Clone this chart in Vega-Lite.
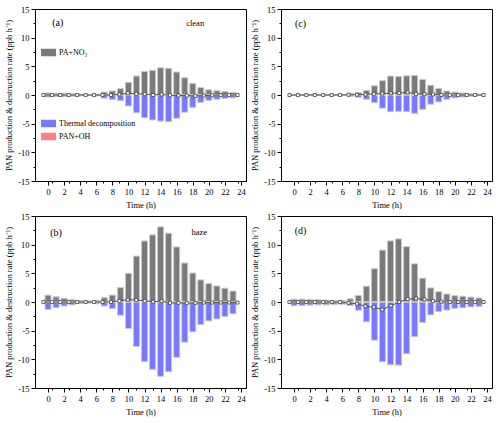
{
  "$schema": "https://vega.github.io/schema/vega-lite/v6.json",
  "padding": {"left": 4, "top": 4, "right": 1, "bottom": 2},
  "background": "white",
  "datasets": {
    "rates": [
      {"p":"a","h":0,"pa":0.35,"td":-0.35,"oh":0,"net":0},
      {"p":"a","h":1,"pa":0.3,"td":-0.3,"oh":0,"net":0},
      {"p":"a","h":2,"pa":0.3,"td":-0.3,"oh":0,"net":0},
      {"p":"a","h":3,"pa":0.2,"td":-0.2,"oh":0,"net":0},
      {"p":"a","h":4,"pa":0.15,"td":-0.15,"oh":0,"net":0},
      {"p":"a","h":5,"pa":0.1,"td":-0.1,"oh":0,"net":0},
      {"p":"a","h":6,"pa":0.15,"td":-0.15,"oh":0,"net":0},
      {"p":"a","h":7,"pa":0.5,"td":-0.55,"oh":0,"net":0},
      {"p":"a","h":8,"pa":0.7,"td":-0.8,"oh":0,"net":0},
      {"p":"a","h":9,"pa":1.1,"td":-1.0,"oh":0,"net":0.1},
      {"p":"a","h":10,"pa":2.2,"td":-1.9,"oh":0,"net":0.3},
      {"p":"a","h":11,"pa":3.3,"td":-3.1,"oh":0,"net":0.2},
      {"p":"a","h":12,"pa":4.1,"td":-3.95,"oh":0,"net":0.15},
      {"p":"a","h":13,"pa":4.3,"td":-4.35,"oh":0,"net":0.0},
      {"p":"a","h":14,"pa":4.75,"td":-4.55,"oh":0,"net":0.1},
      {"p":"a","h":15,"pa":4.65,"td":-4.65,"oh":0,"net":-0.05},
      {"p":"a","h":16,"pa":4.0,"td":-4.05,"oh":0,"net":-0.1},
      {"p":"a","h":17,"pa":3.0,"td":-3.0,"oh":0,"net":-0.1},
      {"p":"a","h":18,"pa":2.0,"td":-2.15,"oh":0,"net":-0.15},
      {"p":"a","h":19,"pa":1.3,"td":-1.3,"oh":0,"net":-0.1},
      {"p":"a","h":20,"pa":0.9,"td":-0.95,"oh":0,"net":-0.05},
      {"p":"a","h":21,"pa":0.75,"td":-0.75,"oh":0,"net":0},
      {"p":"a","h":22,"pa":0.6,"td":-0.6,"oh":0,"net":0},
      {"p":"a","h":23,"pa":0.45,"td":-0.5,"oh":0,"net":0},
      {"p":"b","h":0,"pa":1.2,"td":-1.3,"oh":0,"net":0},
      {"p":"b","h":1,"pa":0.9,"td":-1.0,"oh":0,"net":0},
      {"p":"b","h":2,"pa":0.65,"td":-0.7,"oh":0,"net":0},
      {"p":"b","h":3,"pa":0.4,"td":-0.5,"oh":0,"net":0},
      {"p":"b","h":4,"pa":0.25,"td":-0.3,"oh":0,"net":0},
      {"p":"b","h":5,"pa":0.2,"td":-0.2,"oh":0,"net":0},
      {"p":"b","h":6,"pa":0.3,"td":-0.3,"oh":0,"net":0},
      {"p":"b","h":7,"pa":0.75,"td":-0.7,"oh":0,"net":0},
      {"p":"b","h":8,"pa":1.2,"td":-1.15,"oh":0,"net":0},
      {"p":"b","h":9,"pa":2.5,"td":-2.3,"oh":0,"net":0.2},
      {"p":"b","h":10,"pa":5.0,"td":-4.6,"oh":0,"net":0.4},
      {"p":"b","h":11,"pa":8.0,"td":-7.75,"oh":0,"net":0.35},
      {"p":"b","h":12,"pa":10.65,"td":-10.4,"oh":0,"net":0.2},
      {"p":"b","h":13,"pa":11.7,"td":-11.75,"oh":0,"net":0.05},
      {"p":"b","h":14,"pa":13.1,"td":-12.95,"oh":0,"net":0.15},
      {"p":"b","h":15,"pa":12.0,"td":-12.15,"oh":0,"net":-0.15},
      {"p":"b","h":16,"pa":9.6,"td":-9.65,"oh":0,"net":-0.15},
      {"p":"b","h":17,"pa":6.8,"td":-7.0,"oh":0,"net":-0.2},
      {"p":"b","h":18,"pa":5.05,"td":-5.2,"oh":0,"net":-0.15},
      {"p":"b","h":19,"pa":3.85,"td":-3.95,"oh":0,"net":-0.1},
      {"p":"b","h":20,"pa":3.2,"td":-3.3,"oh":0,"net":-0.1},
      {"p":"b","h":21,"pa":2.8,"td":-2.95,"oh":0,"net":-0.1},
      {"p":"b","h":22,"pa":2.4,"td":-2.5,"oh":0,"net":-0.1},
      {"p":"b","h":23,"pa":1.9,"td":-2.05,"oh":0,"net":-0.1},
      {"p":"c","h":0,"pa":0.05,"td":-0.05,"oh":0,"net":0},
      {"p":"c","h":1,"pa":0.05,"td":-0.05,"oh":0,"net":0},
      {"p":"c","h":2,"pa":0.05,"td":-0.05,"oh":0,"net":0},
      {"p":"c","h":3,"pa":0.05,"td":-0.05,"oh":0,"net":0},
      {"p":"c","h":4,"pa":0.05,"td":-0.05,"oh":0,"net":0},
      {"p":"c","h":5,"pa":0.05,"td":-0.05,"oh":0,"net":0},
      {"p":"c","h":6,"pa":0.1,"td":-0.1,"oh":0,"net":0},
      {"p":"c","h":7,"pa":0.3,"td":-0.25,"oh":0,"net":0.05},
      {"p":"c","h":8,"pa":0.45,"td":-0.4,"oh":0,"net":0.05},
      {"p":"c","h":9,"pa":0.8,"td":-0.75,"oh":0,"net":0.1},
      {"p":"c","h":10,"pa":1.6,"td":-1.35,"oh":0,"net":0.2},
      {"p":"c","h":11,"pa":2.5,"td":-2.3,"oh":0,"net":0.25},
      {"p":"c","h":12,"pa":3.3,"td":-2.9,"oh":0,"net":0.3},
      {"p":"c","h":13,"pa":3.2,"td":-2.85,"oh":0,"net":0.35},
      {"p":"c","h":14,"pa":3.35,"td":-2.9,"oh":0,"net":0.45},
      {"p":"c","h":15,"pa":3.4,"td":-3.2,"oh":0,"net":0.2},
      {"p":"c","h":16,"pa":2.7,"td":-2.5,"oh":0,"net":0.15},
      {"p":"c","h":17,"pa":1.7,"td":-1.6,"oh":0,"net":0.1},
      {"p":"c","h":18,"pa":1.15,"td":-1.2,"oh":0,"net":0},
      {"p":"c","h":19,"pa":0.7,"td":-0.75,"oh":0,"net":0},
      {"p":"c","h":20,"pa":0.5,"td":-0.5,"oh":0,"net":0},
      {"p":"c","h":21,"pa":0.35,"td":-0.35,"oh":0,"net":0},
      {"p":"c","h":22,"pa":0.2,"td":-0.2,"oh":0,"net":0},
      {"p":"c","h":23,"pa":0.15,"td":-0.1,"oh":0,"net":0},
      {"p":"d","h":0,"pa":0.5,"td":-0.65,"oh":0,"net":0},
      {"p":"d","h":1,"pa":0.5,"td":-0.6,"oh":0,"net":0},
      {"p":"d","h":2,"pa":0.45,"td":-0.55,"oh":0,"net":0},
      {"p":"d","h":3,"pa":0.4,"td":-0.5,"oh":0,"net":0},
      {"p":"d","h":4,"pa":0.35,"td":-0.5,"oh":0,"net":0},
      {"p":"d","h":5,"pa":0.3,"td":-0.45,"oh":0,"net":0},
      {"p":"d","h":6,"pa":0.3,"td":-0.4,"oh":0,"net":0},
      {"p":"d","h":7,"pa":0.55,"td":-0.6,"oh":0,"net":-0.15},
      {"p":"d","h":8,"pa":1.15,"td":-1.45,"oh":0,"net":-0.3},
      {"p":"d","h":9,"pa":2.75,"td":-3.45,"oh":0,"net":-0.75},
      {"p":"d","h":10,"pa":5.8,"td":-6.65,"oh":0,"net":-0.9},
      {"p":"d","h":11,"pa":9.05,"td":-10.4,"oh":0,"net":-1.33},
      {"p":"d","h":12,"pa":10.65,"td":-10.95,"oh":0,"net":-0.65},
      {"p":"d","h":13,"pa":11.0,"td":-11.0,"oh":0,"net":0},
      {"p":"d","h":14,"pa":9.65,"td":-9.0,"oh":0,"net":0.5},
      {"p":"d","h":15,"pa":6.65,"td":-6.05,"oh":0,"net":0.6},
      {"p":"d","h":16,"pa":4.15,"td":-3.55,"oh":0,"net":0.45},
      {"p":"d","h":17,"pa":2.45,"td":-2.25,"oh":0,"net":0.15},
      {"p":"d","h":18,"pa":1.8,"td":-1.65,"oh":0,"net":0.05},
      {"p":"d","h":19,"pa":1.4,"td":-1.4,"oh":0,"net":0},
      {"p":"d","h":20,"pa":1.1,"td":-1.1,"oh":0,"net":0},
      {"p":"d","h":21,"pa":1.0,"td":-1.0,"oh":0,"net":0},
      {"p":"d","h":22,"pa":0.85,"td":-0.85,"oh":0,"net":0},
      {"p":"d","h":23,"pa":0.7,"td":-0.75,"oh":0,"net":0}
    ],
    "one": [{}]
  },
  "data": {"name": "rates"},
  "spacing": 1,
  "resolve": {"scale": {"color": "independent"}},
  "vconcat": [
    {
      "spacing": 3,
      "resolve": {"scale": {"color": "independent"}},
      "hconcat": [
        {
          "width": 211, "height": 172,
          "transform": [{"filter": "datum.p === 'a'"}],
          "resolve": {"scale": {"x": "independent", "y": "independent", "color": "independent"}},
          "layer": [
            {
              "resolve": {"scale": {"color": "independent"}},
              "layer": [
                {
                  "mark": {"type": "bar", "size": 6, "stroke": "#c8c8c8", "strokeWidth": 1},
                  "encoding": {
                    "x": {"field": "h", "type": "quantitative", "scale": {"domain": [-1, 24], "nice": false, "zero": false},
                      "axis": {"title": "Time (h)", "values": [0,2,4,6,8,10,12,14,16,18,20,22,24], "tickCount": 60, "labelExpr": "'' + datum.value", "tickSize": 4, "labelOverlap": false, "labelFlush": false, "labelBound": false, "titlePadding": 5}},
                    "y": {"field": "pa", "type": "quantitative", "scale": {"domain": [-15, 15], "nice": false},
                      "axis": {"title": "PAN production & destruction rate (ppb h⁻¹)", "values": [-15,-10,-5,0,5,10,15], "tickCount": 60, "labelExpr": "'' + datum.value", "tickSize": 4, "labelOverlap": false, "labelFlush": false, "labelBound": false, "titlePadding": 4}},
                    "color": {"datum": "PA+NO₂", "scale": {"domain": ["PA+NO₂"], "range": ["#7a7a7a"]},
                      "legend": {"orient": "none", "legendX": 6, "legendY": 36, "title": null, "symbolType": "M-1,-0.5H1V0.5H-1Z", "symbolSize": 225, "symbolStrokeWidth": 0, "labelFont": "Liberation Serif", "labelFontSize": 8, "padding": 0, "labelOffset": 3}}
                  }
                },
                {
                  "transform": [{"fold": ["td", "oh"], "as": ["s", "v"]}],
                  "mark": {"type": "bar", "size": 6, "stroke": "#c8c8c8", "strokeWidth": 1},
                  "encoding": {
                    "x": {"field": "h", "type": "quantitative"},
                    "y": {"field": "v", "type": "quantitative", "stack": true, "title": "PAN production & destruction rate (ppb h⁻¹)"},
                    "color": {"field": "s", "type": "nominal", "scale": {"domain": ["td", "oh"], "range": ["#7878ff", "#ff8080"]},
                      "legend": {"orient": "none", "legendX": 6, "legendY": 107, "title": null, "symbolType": "M-1,-0.5H1V0.5H-1Z", "symbolSize": 225, "symbolStrokeWidth": 0, "labelFont": "Liberation Serif", "labelFontSize": 8, "padding": 0, "rowPadding": 1, "labelOffset": 3, "labelExpr": "datum.value === 'td' ? 'Thermal decomposition' : 'PAN+OH'"}}
                  }
                },
                {
                  "data": {"name": "one"},
                  "mark": {"type": "text", "font": "Liberation Serif", "fontSize": 10, "align": "center", "baseline": "middle"},
                  "encoding": {"x": {"datum": 1.2, "type": "quantitative"}, "y": {"datum": 12.5, "type": "quantitative"}, "text": {"value": "(a)"}}
                },
                {
                  "data": {"name": "one"},
                  "mark": {"type": "text", "font": "Liberation Serif", "fontSize": 8.5, "align": "center", "baseline": "middle"},
                  "encoding": {"x": {"datum": 18.3, "type": "quantitative"}, "y": {"datum": 12.6, "type": "quantitative"}, "text": {"value": "clean"}}
                }
              ]
            },
            {
              "mark": {"type": "line", "color": "#555555", "strokeWidth": 1, "point": {"shape": "square", "filled": true, "fill": "white", "stroke": "#444444", "strokeWidth": 0.8, "size": 9}},
              "encoding": {
                "x": {"field": "h", "type": "quantitative", "scale": {"domain": [-1, 24], "nice": false, "zero": false},
                  "axis": {"orient": "bottom", "title": null, "labels": false, "domain": false, "values": [1,3,5,7,9,11,13,15,17,19,21,23], "tickCount": 60, "tickSize": 2}},
                "y": {"field": "net", "type": "quantitative", "scale": {"domain": [-15, 15], "nice": false},
                  "axis": {"orient": "left", "title": null, "labels": false, "domain": false, "values": [-12.5,-7.5,-2.5,2.5,7.5,12.5], "tickCount": 60, "tickSize": 2}}
              }
            }
          ]
        },
        {
          "width": 211, "height": 172,
          "transform": [{"filter": "datum.p === 'c'"}],
          "resolve": {"scale": {"x": "independent", "y": "independent", "color": "independent"}},
          "layer": [
            {
              "layer": [
                {
                  "mark": {"type": "bar", "size": 6, "stroke": "#c8c8c8", "strokeWidth": 1, "color": "#7a7a7a"},
                  "encoding": {
                    "x": {"field": "h", "type": "quantitative", "scale": {"domain": [-1, 24], "nice": false, "zero": false},
                      "axis": {"title": "Time (h)", "values": [0,2,4,6,8,10,12,14,16,18,20,22,24], "tickCount": 60, "labelExpr": "'' + datum.value", "tickSize": 4, "labelOverlap": false, "labelFlush": false, "labelBound": false, "titlePadding": 5}},
                    "y": {"field": "pa", "type": "quantitative", "scale": {"domain": [-15, 15], "nice": false},
                      "axis": {"title": "PAN production & destruction rate (ppb h⁻¹)", "values": [-15,-10,-5,0,5,10,15], "tickCount": 60, "labelExpr": "'' + datum.value", "tickSize": 4, "labelOverlap": false, "labelFlush": false, "labelBound": false, "titlePadding": 4}}
                  }
                },
                {
                  "transform": [{"fold": ["td", "oh"], "as": ["s", "v"]}],
                  "mark": {"type": "bar", "size": 6, "stroke": "#c8c8c8", "strokeWidth": 1},
                  "encoding": {
                    "x": {"field": "h", "type": "quantitative"},
                    "y": {"field": "v", "type": "quantitative", "stack": true, "title": "PAN production & destruction rate (ppb h⁻¹)"},
                    "color": {"field": "s", "type": "nominal", "scale": {"domain": ["td", "oh"], "range": ["#7878ff", "#ff8080"]}, "legend": null}
                  }
                },
                {
                  "data": {"name": "one"},
                  "mark": {"type": "text", "font": "Liberation Serif", "fontSize": 10, "align": "center", "baseline": "middle"},
                  "encoding": {"x": {"datum": 0.8, "type": "quantitative"}, "y": {"datum": 12.4, "type": "quantitative"}, "text": {"value": "(c)"}}
                }
              ]
            },
            {
              "mark": {"type": "line", "color": "#555555", "strokeWidth": 1, "point": {"shape": "square", "filled": true, "fill": "white", "stroke": "#444444", "strokeWidth": 0.8, "size": 9}},
              "encoding": {
                "x": {"field": "h", "type": "quantitative", "scale": {"domain": [-1, 24], "nice": false, "zero": false},
                  "axis": {"orient": "bottom", "title": null, "labels": false, "domain": false, "values": [1,3,5,7,9,11,13,15,17,19,21,23], "tickCount": 60, "tickSize": 2}},
                "y": {"field": "net", "type": "quantitative", "scale": {"domain": [-15, 15], "nice": false},
                  "axis": {"orient": "left", "title": null, "labels": false, "domain": false, "values": [-12.5,-7.5,-2.5,2.5,7.5,12.5], "tickCount": 60, "tickSize": 2}}
              }
            }
          ]
        }
      ]
    },
    {
      "spacing": 3,
      "resolve": {"scale": {"color": "independent"}},
      "hconcat": [
        {
          "width": 211, "height": 172,
          "transform": [{"filter": "datum.p === 'b'"}],
          "resolve": {"scale": {"x": "independent", "y": "independent", "color": "independent"}},
          "layer": [
            {
              "layer": [
                {
                  "mark": {"type": "bar", "size": 6, "stroke": "#c8c8c8", "strokeWidth": 1, "color": "#7a7a7a"},
                  "encoding": {
                    "x": {"field": "h", "type": "quantitative", "scale": {"domain": [-1, 24], "nice": false, "zero": false},
                      "axis": {"title": "Time (h)", "values": [0,2,4,6,8,10,12,14,16,18,20,22,24], "tickCount": 60, "labelExpr": "'' + datum.value", "tickSize": 4, "labelOverlap": false, "labelFlush": false, "labelBound": false, "titlePadding": 5}},
                    "y": {"field": "pa", "type": "quantitative", "scale": {"domain": [-15, 15], "nice": false},
                      "axis": {"title": "PAN production & destruction rate (ppb h⁻¹)", "values": [-15,-10,-5,0,5,10,15], "tickCount": 60, "labelExpr": "'' + datum.value", "tickSize": 4, "labelOverlap": false, "labelFlush": false, "labelBound": false, "titlePadding": 4}}
                  }
                },
                {
                  "transform": [{"fold": ["td", "oh"], "as": ["s", "v"]}],
                  "mark": {"type": "bar", "size": 6, "stroke": "#c8c8c8", "strokeWidth": 1},
                  "encoding": {
                    "x": {"field": "h", "type": "quantitative"},
                    "y": {"field": "v", "type": "quantitative", "stack": true, "title": "PAN production & destruction rate (ppb h⁻¹)"},
                    "color": {"field": "s", "type": "nominal", "scale": {"domain": ["td", "oh"], "range": ["#7878ff", "#ff8080"]}, "legend": null}
                  }
                },
                {
                  "data": {"name": "one"},
                  "mark": {"type": "text", "font": "Liberation Serif", "fontSize": 10, "align": "center", "baseline": "middle"},
                  "encoding": {"x": {"datum": 1.0, "type": "quantitative"}, "y": {"datum": 12.1, "type": "quantitative"}, "text": {"value": "(b)"}}
                },
                {
                  "data": {"name": "one"},
                  "mark": {"type": "text", "font": "Liberation Serif", "fontSize": 8.5, "align": "center", "baseline": "middle"},
                  "encoding": {"x": {"datum": 18.8, "type": "quantitative"}, "y": {"datum": 12.2, "type": "quantitative"}, "text": {"value": "haze"}}
                }
              ]
            },
            {
              "mark": {"type": "line", "color": "#555555", "strokeWidth": 1, "point": {"shape": "square", "filled": true, "fill": "white", "stroke": "#444444", "strokeWidth": 0.8, "size": 9}},
              "encoding": {
                "x": {"field": "h", "type": "quantitative", "scale": {"domain": [-1, 24], "nice": false, "zero": false},
                  "axis": {"orient": "bottom", "title": null, "labels": false, "domain": false, "values": [1,3,5,7,9,11,13,15,17,19,21,23], "tickCount": 60, "tickSize": 2}},
                "y": {"field": "net", "type": "quantitative", "scale": {"domain": [-15, 15], "nice": false},
                  "axis": {"orient": "left", "title": null, "labels": false, "domain": false, "values": [-12.5,-7.5,-2.5,2.5,7.5,12.5], "tickCount": 60, "tickSize": 2}}
              }
            }
          ]
        },
        {
          "width": 211, "height": 172,
          "transform": [{"filter": "datum.p === 'd'"}],
          "resolve": {"scale": {"x": "independent", "y": "independent", "color": "independent"}},
          "layer": [
            {
              "layer": [
                {
                  "mark": {"type": "bar", "size": 6, "stroke": "#c8c8c8", "strokeWidth": 1, "color": "#7a7a7a"},
                  "encoding": {
                    "x": {"field": "h", "type": "quantitative", "scale": {"domain": [-1, 24], "nice": false, "zero": false},
                      "axis": {"title": "Time (h)", "values": [0,2,4,6,8,10,12,14,16,18,20,22,24], "tickCount": 60, "labelExpr": "'' + datum.value", "tickSize": 4, "labelOverlap": false, "labelFlush": false, "labelBound": false, "titlePadding": 5}},
                    "y": {"field": "pa", "type": "quantitative", "scale": {"domain": [-15, 15], "nice": false},
                      "axis": {"title": "PAN production & destruction rate (ppb h⁻¹)", "values": [-15,-10,-5,0,5,10,15], "tickCount": 60, "labelExpr": "'' + datum.value", "tickSize": 4, "labelOverlap": false, "labelFlush": false, "labelBound": false, "titlePadding": 4}}
                  }
                },
                {
                  "transform": [{"fold": ["td", "oh"], "as": ["s", "v"]}],
                  "mark": {"type": "bar", "size": 6, "stroke": "#c8c8c8", "strokeWidth": 1},
                  "encoding": {
                    "x": {"field": "h", "type": "quantitative"},
                    "y": {"field": "v", "type": "quantitative", "stack": true, "title": "PAN production & destruction rate (ppb h⁻¹)"},
                    "color": {"field": "s", "type": "nominal", "scale": {"domain": ["td", "oh"], "range": ["#7878ff", "#ff8080"]}, "legend": null}
                  }
                },
                {
                  "data": {"name": "one"},
                  "mark": {"type": "text", "font": "Liberation Serif", "fontSize": 10, "align": "center", "baseline": "middle"},
                  "encoding": {"x": {"datum": 0.8, "type": "quantitative"}, "y": {"datum": 12.4, "type": "quantitative"}, "text": {"value": "(d)"}}
                }
              ]
            },
            {
              "mark": {"type": "line", "color": "#555555", "strokeWidth": 1, "point": {"shape": "square", "filled": true, "fill": "white", "stroke": "#444444", "strokeWidth": 0.8, "size": 9}},
              "encoding": {
                "x": {"field": "h", "type": "quantitative", "scale": {"domain": [-1, 24], "nice": false, "zero": false},
                  "axis": {"orient": "bottom", "title": null, "labels": false, "domain": false, "values": [1,3,5,7,9,11,13,15,17,19,21,23], "tickCount": 60, "tickSize": 2}},
                "y": {"field": "net", "type": "quantitative", "scale": {"domain": [-15, 15], "nice": false},
                  "axis": {"orient": "left", "title": null, "labels": false, "domain": false, "values": [-12.5,-7.5,-2.5,2.5,7.5,12.5], "tickCount": 60, "tickSize": 2}}
              }
            }
          ]
        }
      ]
    }
  ],
  "config": {
    "font": "Liberation Serif",
    "view": {"stroke": "black", "strokeWidth": 1},
    "axis": {"labelFont": "Liberation Serif", "titleFont": "Liberation Serif", "labelFontSize": 8.5, "titleFontSize": 8.5, "titleFontWeight": "normal", "labelColor": "black", "titleColor": "black", "domainColor": "black", "tickColor": "black", "grid": false, "labelPadding": 2, "labelOverlap": false}
  }
}
